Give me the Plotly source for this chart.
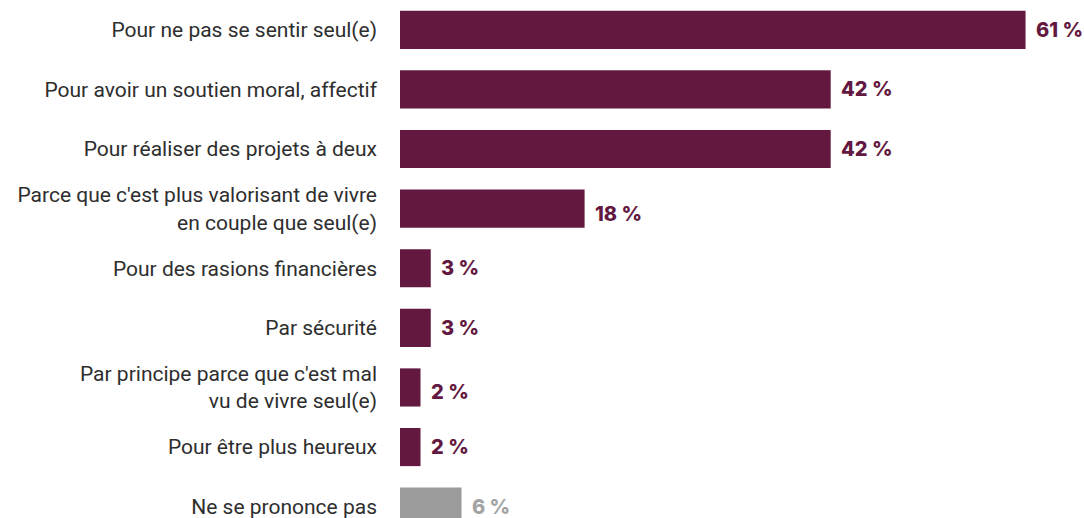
import plotly.graph_objects as go

categories = [
    "Pour ne pas se sentir seul(e)",
    "Pour avoir un soutien moral, affectif",
    "Pour réaliser des projets à deux",
    "Parce que c'est plus valorisant de vivre<br>en couple que seul(e)",
    "Pour des rasions financières",
    "Par sécurité",
    "Par principe parce que c'est mal<br>vu de vivre seul(e)",
    "Pour être plus heureux",
    "Ne se prononce pas",
]
values = [61, 42, 42, 18, 3, 3, 2, 2, 6]

PURPLE = "#63193f"
GREY = "#9b9b9b"
bar_colors = [PURPLE] * 8 + [GREY]
text_colors = [PURPLE] * 8 + ["#a3a3a3"]

fig = go.Figure()
fig.add_trace(go.Bar(
    y=categories,
    x=values,
    orientation="h",
    marker=dict(color=bar_colors, line=dict(width=0)),
    width=0.64,
    hoverinfo="skip",
))

# value labels to the right of each bar
for cat, val, col in zip(categories, values, text_colors):
    fig.add_annotation(
        x=val, y=cat, text=f"{val} %",
        xanchor="left", xshift=8, showarrow=False,
        yshift=-5 if "<br>" in cat else 0,
        font=dict(family="Inter", size=20, color=col, weight=800),
    )

fig.update_layout(
    width=1084, height=518,
    margin=dict(l=400, r=0, t=0, b=0),
    plot_bgcolor="white", paper_bgcolor="white",
    showlegend=False,
    xaxis=dict(range=[0, 66.7], visible=False),
    yaxis=dict(
        type="category", range=[8.19, -0.5],
        showgrid=False, zeroline=False, showline=False,
        ticks="", ticklabelstandoff=22,
        tickfont=dict(family="Roboto", size=21, color="#2e2e2e"),
    ),
)

# drop the default page margin so the figure sits at the window corner
fig.write_html("out.html", config={"displayModeBar": False},
               post_script="document.body.style.margin='0';")
